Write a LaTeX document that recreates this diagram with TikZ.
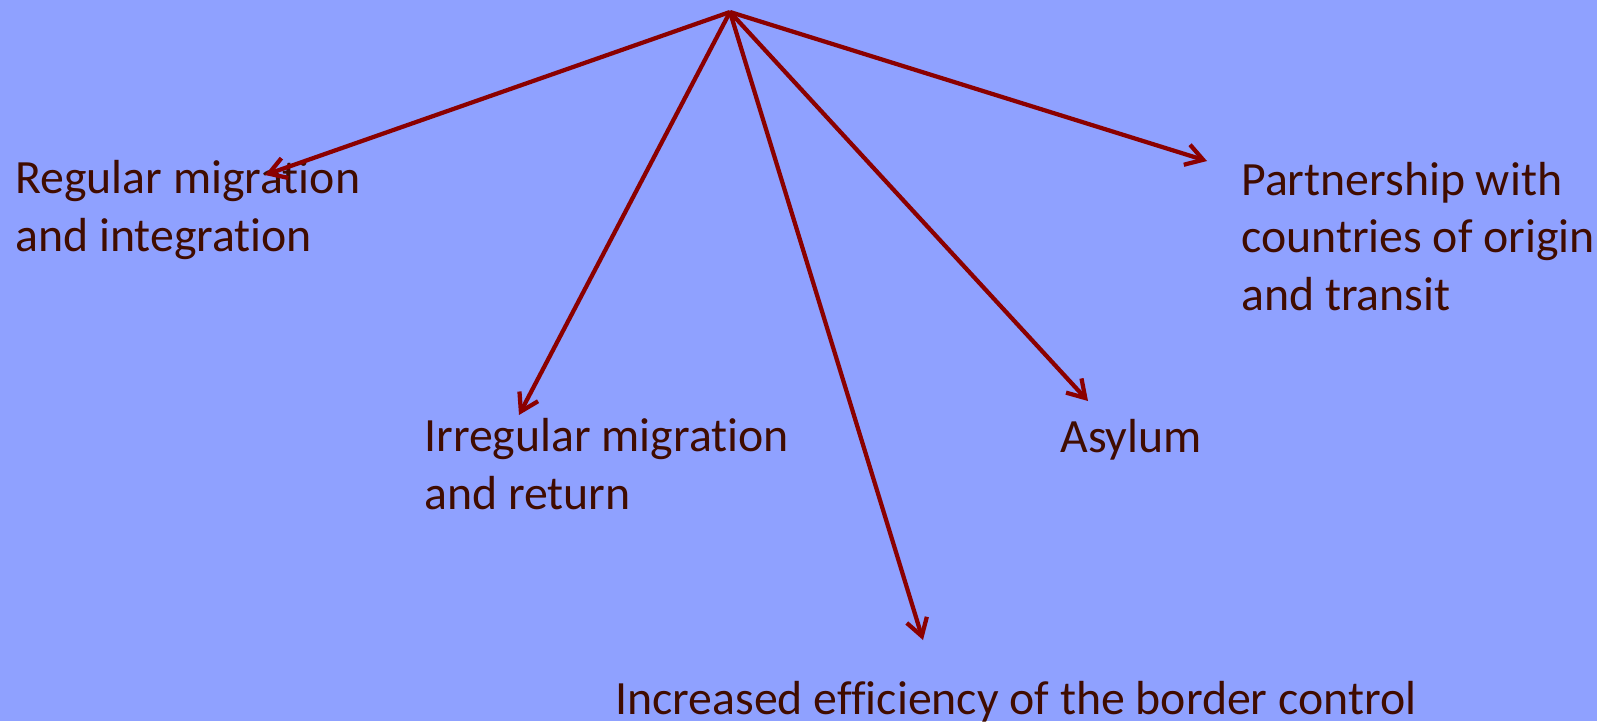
\documentclass[tikz,border=0pt]{standalone}
\usepackage{fontspec}
\setmainfont{Carlito}[Ligatures=NoCommon]
\usetikzlibrary{arrows.meta}
\definecolor{bgblue}{RGB}{143,161,255}
\definecolor{arrowred}{RGB}{139,0,0}
\definecolor{textbrown}{RGB}{64,12,0}
\begin{document}
\begin{tikzpicture}[x=0.02cm,y=-0.02cm,
  topic/.style={anchor=base west, inner sep=0pt, align=left, text=textbrown,
    font=\fontsize{27.2}{32.6}\selectfont},
  branch/.style={draw=arrowred, line width=0.085cm,
    -{Straight Barb[length=0.34cm,width=0.42cm]}}]
\fill[bgblue] (0,0) rectangle (1597,721);
\useasboundingbox (0,0) rectangle (1597,721);

\coordinate (top) at (730,12);
\coordinate (regend) at (265,175);
\coordinate (irrend) at (519,415);
\coordinate (effend) at (923,640);
\coordinate (asyend) at (1088,401);
\coordinate (parend) at (1207,161);

% base of a multi-line topic is its last line
\node[topic] (reg) at (15,251) {Regular migration\\and integration};
\node[topic] (irr) at (424,509) {Irregular migration\\and return};
\node[topic] (eff) at (615,714) {Increased efficiency of the border control};
\node[topic] (asy) at (1060,452) {Asylum};
\node[topic] (par) at (1241,310) {Partnership with\\countries of origin\\and transit};

\path[branch] (top) -- (regend);
\path[branch] (top) -- (irrend);
\path[branch] (top) -- (effend);
\path[branch] (top) -- (asyend);
\path[branch] (top) -- (parend);
\end{tikzpicture}
\end{document}
